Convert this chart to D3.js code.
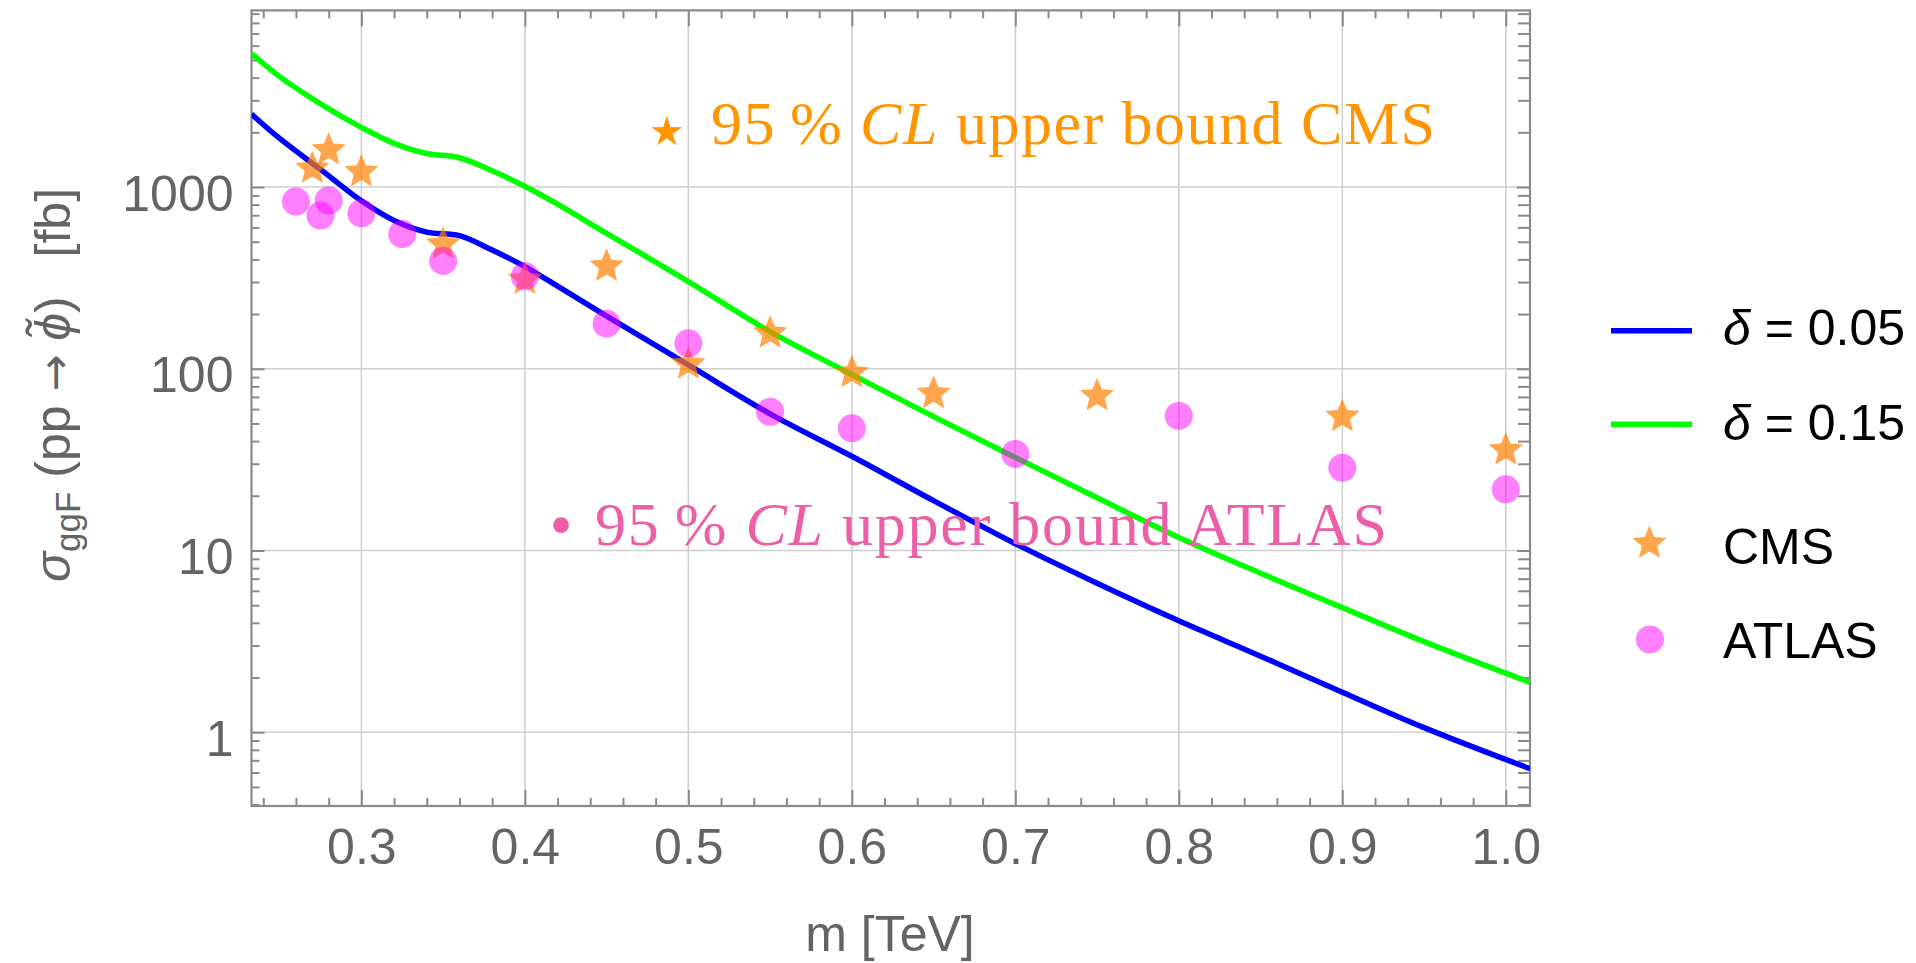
<!DOCTYPE html>
<html>
<head>
<meta charset="utf-8">
<script src="https://cdn.jsdelivr.net/npm/d3@7"></script>
<style>
  html, body { margin: 0; padding: 0; background: #ffffff; }
  svg { display: block; }
</style>
</head>
<body>
<svg id="chart" width="1916" height="963"></svg>
<script>
// ---------- data ----------
const curveMass = [0.2328, 0.25, 0.275, 0.30, 0.32, 0.34, 0.36, 0.38, 0.40, 0.42, 0.45, 0.50, 0.55, 0.60, 0.65, 0.70, 0.75, 0.80, 0.85, 0.90, 0.95, 1.0148];
const delta005 = [2520, 1850, 1250, 840, 655, 565, 540, 450, 365, 285, 195, 105, 56.5, 33, 18.8, 10.9, 6.6, 4.1, 2.62, 1.66, 1.06, 0.63];
const delta015 = [5430, 4050, 2870, 2130, 1740, 1530, 1450, 1230, 1010, 805, 556, 302, 160, 93, 54.5, 32.5, 19.5, 11.8, 7.5, 4.85, 3.15, 1.88];

const cmsMass  = [0.27, 0.28, 0.30, 0.35, 0.40, 0.45, 0.50, 0.55, 0.60, 0.65, 0.75, 0.90, 1.00];
const cmsLimit = [1265, 1600, 1211, 484, 310, 366, 106, 157, 95, 73, 71, 54.5, 35.7];

const atlasMass  = [0.26, 0.275, 0.28, 0.30, 0.325, 0.35, 0.40, 0.45, 0.50, 0.55, 0.60, 0.70, 0.80, 0.90, 1.00];
const atlasLimit = [832, 697, 843, 717, 551, 392, 323, 177, 138, 58, 47, 34, 55, 28.5, 21.7];

const xMajorTicks = [0.3, 0.4, 0.5, 0.6, 0.7, 0.8, 0.9, 1.0];
const xTickLabels = ["0.3", "0.4", "0.5", "0.6", "0.7", "0.8", "0.9", "1.0"];
const yMajorTicks = [1, 10, 100, 1000];
const yTickLabels = ["1", "10", "100", "1000"];

const legendLabels = ["0.05", "0.15"];
const seriesColors = { d005: "#0000ff", d015: "#00ff00", cms: "#ff8000", atlas: "#ff00ff" };

// ---------- layout ----------
const svg = d3.select("#chart");
const pL = 251.5, pR = 1530, pT = 10.4, pB = 806;
const x = d3.scaleLinear().domain([0.2328, 1.0148]).range([pL, pR]);
const y = d3.scaleLog().domain([0.3926, 9376]).range([pB, pT]);

const sans = "'Liberation Sans', Arial, Helvetica, sans-serif";
const serif = "'Liberation Serif', 'Times New Roman', Times, serif";
const axisGray = "#8a8a8a";
const labelGray = "#646464";

// clip
svg.append("defs").append("clipPath").attr("id", "plotclip")
  .append("rect").attr("x", pL).attr("y", pT).attr("width", pR - pL).attr("height", pB - pT);

// grid
const grid = svg.append("g");
grid.selectAll("line.gx").data(xMajorTicks).enter().append("line")
  .attr("x1", d => x(d)).attr("x2", d => x(d)).attr("y1", pT).attr("y2", pB)
  .attr("stroke", "#cfcfcf").attr("stroke-width", 1.6);
grid.selectAll("line.gy").data(yMajorTicks).enter().append("line")
  .attr("x1", pL).attr("x2", pR).attr("y1", d => y(d)).attr("y2", d => y(d))
  .attr("stroke", "#cfcfcf").attr("stroke-width", 1.6);

// minor tick values
const xMinor = d3.range(12, 51).map(i => i * 0.02).filter(v => v > 0.2328 && v < 1.0148 && Math.abs(v * 10 - Math.round(v * 10)) > 1e-6);
const yMinor = [];
for (let e = -1; e <= 3; e++) for (let k = 2; k <= 9; k++) {
  const v = k * Math.pow(10, e);
  if (v > 0.3926 && v < 9376) yMinor.push(v);
}

function styleAxis(g) {
  g.select(".domain").remove();
  g.selectAll(".tick line").attr("stroke", axisGray).attr("stroke-width", 2);
  g.selectAll(".tick text").attr("fill", labelGray).style("font-family", sans).style("font-size", "50px");
}

// bottom axis
svg.append("g").attr("transform", `translate(0,${pB})`)
  .call(d3.axisBottom(x).tickValues(xMajorTicks).tickSize(-16).tickPadding(22)
        .tickFormat((d, i) => xTickLabels[i]))
  .call(styleAxis);
svg.append("g").attr("transform", `translate(0,${pB})`)
  .call(d3.axisBottom(x).tickValues(xMinor).tickSize(-8).tickFormat(""))
  .call(styleAxis);
// top axis
svg.append("g").attr("transform", `translate(0,${pT})`)
  .call(d3.axisTop(x).tickValues(xMajorTicks).tickSize(-16).tickFormat(""))
  .call(styleAxis);
svg.append("g").attr("transform", `translate(0,${pT})`)
  .call(d3.axisTop(x).tickValues(xMinor).tickSize(-8).tickFormat(""))
  .call(styleAxis);
// left axis
const la = svg.append("g").attr("transform", `translate(${pL},0)`)
  .call(d3.axisLeft(y).tickValues(yMajorTicks).tickSize(-13).tickPadding(18)
        .tickFormat((d, i) => yTickLabels[i]))
  .call(styleAxis);
la.selectAll(".tick text").attr("dy", "0.46em");
svg.append("g").attr("transform", `translate(${pL},0)`)
  .call(d3.axisLeft(y).tickValues(yMinor).tickSize(-8).tickFormat(""))
  .call(styleAxis);
// right axis
svg.append("g").attr("transform", `translate(${pR},0)`)
  .call(d3.axisRight(y).tickValues(yMajorTicks).tickSize(-13).tickFormat(""))
  .call(styleAxis);
svg.append("g").attr("transform", `translate(${pR},0)`)
  .call(d3.axisRight(y).tickValues(yMinor).tickSize(-12).tickFormat(""))
  .call(styleAxis);

// frame
svg.append("rect").attr("x", pL).attr("y", pT).attr("width", pR - pL).attr("height", pB - pT)
  .attr("fill", "none").attr("stroke", axisGray).attr("stroke-width", 2.2);

// curves
const plot = svg.append("g").attr("clip-path", "url(#plotclip)");
const line = d3.line().x(d => x(d[0])).y(d => y(d[1])).curve(d3.curveCatmullRom.alpha(0.5));
plot.append("path").datum(curveMass.map((m, i) => [m, delta005[i]]))
  .attr("d", line).attr("fill", "none").attr("stroke", seriesColors.d005).attr("stroke-width", 5.5)
  .attr("stroke-linejoin", "round");
plot.append("path").datum(curveMass.map((m, i) => [m, delta015[i]]))
  .attr("d", line).attr("fill", "none").attr("stroke", seriesColors.d015).attr("stroke-width", 5.5)
  .attr("stroke-linejoin", "round");

// star path generator
function starPath(R, ratio) {
  const pts = [];
  for (let i = 0; i < 10; i++) {
    const r = i % 2 === 0 ? R : R * ratio;
    const a = -Math.PI / 2 + i * Math.PI / 5;
    pts.push([r * Math.cos(a), r * Math.sin(a)]);
  }
  return "M" + pts.map(p => p[0].toFixed(2) + "," + p[1].toFixed(2)).join("L") + "Z";
}
const STAR = starPath(18, 0.45);

// CMS stars
plot.selectAll("path.cms").data(cmsMass.map((m, i) => [m, cmsLimit[i]])).enter().append("path")
  .attr("d", STAR).attr("transform", d => `translate(${x(d[0])},${y(d[1])})`)
  .attr("fill", seriesColors.cms).attr("fill-opacity", 0.7);
// ATLAS circles
plot.selectAll("circle.atlas").data(atlasMass.map((m, i) => [m, atlasLimit[i]])).enter().append("circle")
  .attr("cx", d => x(d[0])).attr("cy", d => y(d[1])).attr("r", 14)
  .attr("fill", seriesColors.atlas).attr("fill-opacity", 0.5);

// annotations
svg.append("text").attr("x", 667).attr("y", 145).attr("text-anchor", "middle")
  .style("font-family", "'DejaVu Sans', sans-serif").style("font-size", "40px")
  .attr("fill", "#ff9500").text("\u2605");
const cmsText = svg.append("text").attr("x", 711).attr("y", 144)
  .attr("textLength", 724).attr("lengthAdjust", "spacing")
  .style("font-family", serif).style("font-size", "62px").attr("fill", "#ff9500");
cmsText.append("tspan").text("95\u2009% ");
cmsText.append("tspan").style("font-style", "italic").text("CL");
cmsText.append("tspan").text(" upper bound CMS");

svg.append("text").attr("x", 561).attr("y", 547).attr("text-anchor", "middle")
  .style("font-family", serif).style("font-size", "66px").attr("fill", "#ec5ea6").text("\u2022");
const atlasText = svg.append("text").attr("x", 595).attr("y", 545)
  .attr("textLength", 792).attr("lengthAdjust", "spacing")
  .style("font-family", serif).style("font-size", "62px").attr("fill", "#ec5ea6");
atlasText.append("tspan").text("95\u2009% ");
atlasText.append("tspan").style("font-style", "italic").text("CL");
atlasText.append("tspan").text(" upper bound ATLAS");

// axis labels
svg.append("text").attr("x", 890).attr("y", 951).attr("text-anchor", "middle")
  .style("font-family", sans).style("font-size", "50px").attr("fill", labelGray).text("m [TeV]");

const yl = svg.append("text").attr("transform", "translate(70,385) rotate(-90)").attr("text-anchor", "middle")
  .style("font-family", sans).style("font-size", "50px").attr("fill", labelGray);
yl.append("tspan").style("font-style", "italic").text("\u03C3");
yl.append("tspan").attr("dy", 10).style("font-size", "35px").text("ggF");
yl.append("tspan").attr("dy", -10).text(" (pp ");
yl.append("tspan").style("font-family", "'DejaVu Sans', sans-serif").style("font-size", "44px").text("\u2192");
yl.append("tspan").text(" ");
yl.append("tspan").style("font-style", "italic").text("\u03D5\u0303");
yl.append("tspan").text(")\u2002 [fb]");

// legend
const legend = svg.append("g");
const legendLineY = [330.7, 424.3];
const legendColors = [seriesColors.d005, seriesColors.d015];
const legendBase = [345, 440];
legendLineY.forEach((ly, i) => {
  legend.append("line").attr("x1", 1611).attr("x2", 1692).attr("y1", ly).attr("y2", ly)
    .attr("stroke", legendColors[i]).attr("stroke-width", 5.5);
  const t = legend.append("text").attr("x", 1723).attr("y", legendBase[i])
    .style("font-family", sans).style("font-size", "50px").attr("fill", "#000");
  t.append("tspan").style("font-style", "italic").text("\u03B4");
  t.append("tspan").text(" = " + legendLabels[i]);
});
legend.append("path").attr("d", STAR).attr("transform", "translate(1649.5,543.5)")
  .attr("fill", seriesColors.cms).attr("fill-opacity", 0.7);
legend.append("text").attr("x", 1723).attr("y", 564)
  .style("font-family", sans).style("font-size", "50px").attr("fill", "#000").text("CMS");
legend.append("circle").attr("cx", 1650).attr("cy", 639.5).attr("r", 14)
  .attr("fill", seriesColors.atlas).attr("fill-opacity", 0.5);
legend.append("text").attr("x", 1723).attr("y", 658)
  .style("font-family", sans).style("font-size", "50px").attr("fill", "#000").text("ATLAS");
</script>
</body>
</html>
